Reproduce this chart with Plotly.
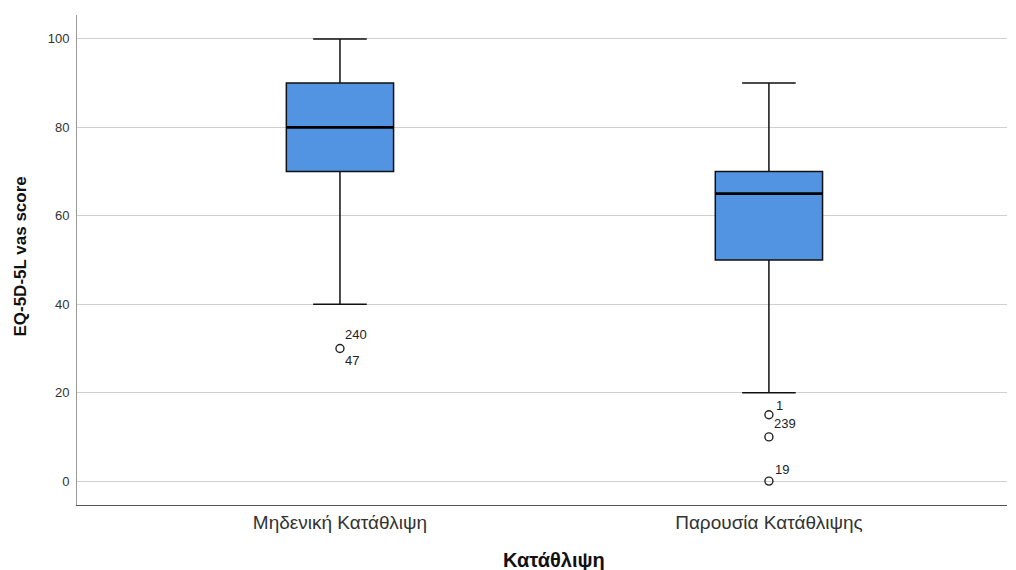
import plotly.graph_objects as go

# Group labels and box-plot summaries of the EQ-5D-5L VAS score
categories = ["Μηδενική Κατάθλιψη", "Παρουσία Κατάθλιψης"]
q1 = [70, 50]
median = [80, 65]
q3 = [90, 70]
lower_whisker = [40, 20]
upper_whisker = [100, 90]

# Outlying cases: group index, value and case label
outlier_group = [0, 0, 1, 1, 1]
outlier_value = [30, 30, 15, 10, 0]
outlier_case = ["240", "47", "1", "239", "19"]

y_ticks = [0, 20, 40, 60, 80, 100]

# Pixel offsets (dx, dy) of each case label from its point
label_offsets = [(3, 14), (3, -12), (5, 9), (3, 13), (4, 12)]

BOX_FILL = "#5294E2"
BOX_WIDTH = 0.25
font_family = "Liberation Sans, Arial, sans-serif"

fig = go.Figure()

xs = list(range(len(categories)))
fig.add_trace(go.Box(
    x=xs,
    q1=q1, median=median, q3=q3,
    lowerfence=lower_whisker, upperfence=upper_whisker,
    width=BOX_WIDTH,
    whiskerwidth=0.5,
    fillcolor=BOX_FILL,
    line=dict(color="#111111", width=1.5),
    boxpoints=False,
    showlegend=False,
    hoverinfo="skip",
))

# Thicker median bars drawn over each box
for i, m in enumerate(median):
    fig.add_trace(go.Scatter(
        x=[xs[i] - BOX_WIDTH / 2, xs[i] + BOX_WIDTH / 2], y=[m, m],
        mode="lines", line=dict(color="black", width=2.8),
        showlegend=False, hoverinfo="skip",
    ))

# Outlier points
seen = set()
ox, oy = [], []
for g, v in zip(outlier_group, outlier_value):
    if (g, v) not in seen:
        seen.add((g, v))
        ox.append(xs[g])
        oy.append(v)
fig.add_trace(go.Scatter(
    x=ox, y=oy, mode="markers",
    marker=dict(symbol="circle-open", size=8, color="#222222", line=dict(width=1.4)),
    showlegend=False, hoverinfo="skip",
))

# Case-number labels beside the outliers
for g, v, lab, (dx, dy) in zip(outlier_group, outlier_value, outlier_case, label_offsets):
    fig.add_annotation(
        x=xs[g], y=v, text=lab, showarrow=False,
        xanchor="left", yanchor="middle",
        xshift=dx, yshift=dy,
        font=dict(family=font_family, size=13, color="#222222"),
    )

# Axis titles
fig.add_annotation(
    x=(xs[0] + xs[-1]) / 2, xref="x", y=0, yref="paper",
    yshift=-55, yanchor="middle", xanchor="center",
    text="<b>Κατάθλιψη</b>", showarrow=False,
    font=dict(family=font_family, size=20, color="#111111"),
)
fig.add_annotation(
    x=0, xref="paper", xshift=-56, xanchor="center",
    y=0.507, yref="paper", yanchor="middle",
    text="<b>EQ-5D-5L vas score</b>", textangle=-90, showarrow=False,
    font=dict(family=font_family, size=17, color="#111111"),
)

fig.update_layout(
    width=1016, height=570,
    margin=dict(l=77, r=9, t=15, b=65),
    paper_bgcolor="white", plot_bgcolor="white",
    font=dict(family=font_family, size=12, color="#222222"),
    xaxis=dict(
        range=[-0.613, 1.555],
        tickmode="array", tickvals=xs, ticktext=categories,
        showgrid=False, zeroline=False,
        showline=True, linecolor="#555555", linewidth=1,
        ticks="", tickfont=dict(size=19, color="#333333"),
    ),
    yaxis=dict(
        range=[-5.4, 105.4],
        tickmode="array", tickvals=y_ticks,
        showgrid=True, gridcolor="#cfcfcf", gridwidth=1,
        zeroline=False,
        showline=True, linecolor="#999999", linewidth=1,
        ticks="outside", ticklen=4, tickcolor="rgba(0,0,0,0)",
        tickfont=dict(size=13, color="#333333"),
    ),
)

fig.write_html("out.html")
